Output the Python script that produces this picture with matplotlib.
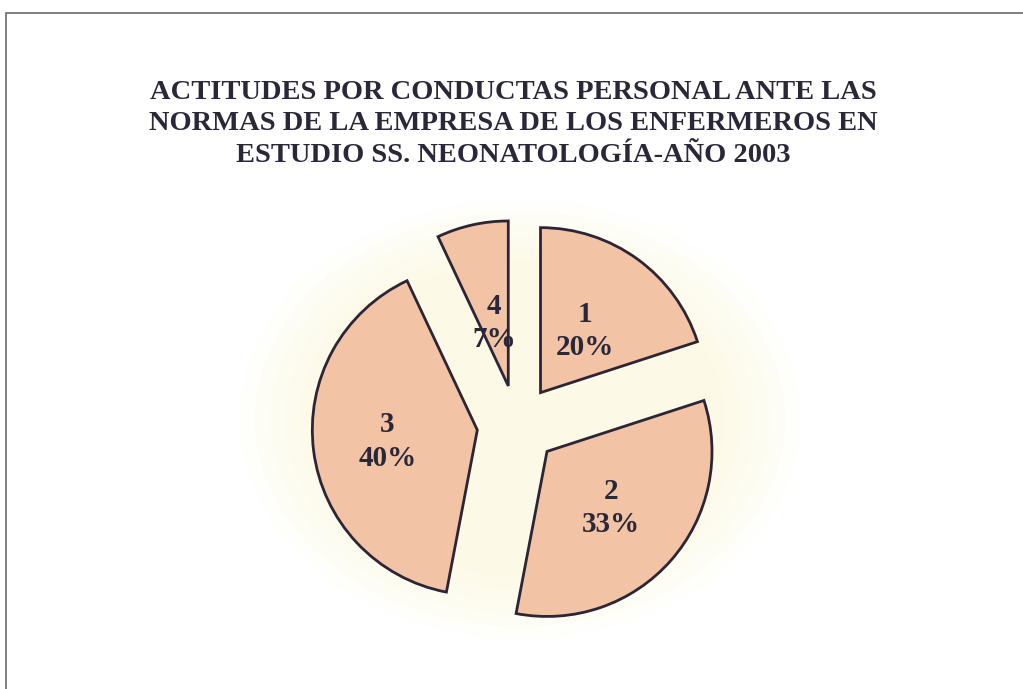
import numpy as np
import matplotlib.pyplot as plt
from matplotlib.patches import Ellipse, Rectangle

# datos del grafico
categorias = ["1", "2", "3", "4"]
porcentajes = [20, 33, 40, 7]
titulo = ("ACTITUDES POR CONDUCTAS PERSONAL ANTE LAS\n"
          "NORMAS DE LA EMPRESA DE LOS ENFERMEROS EN\n"
          "ESTUDIO SS. NEONATOLOGÍA-AÑO 2003")

color_sector = "#f3c3a6"
color_borde = "#2b2536"
color_texto = "#2a2838"

fig = plt.figure(figsize=(10.23, 6.89), dpi=100)
fig.patch.set_facecolor("white")
ax = fig.add_axes([0, 0, 1, 1])

# marco del cuadro (coordenadas en pixeles, y hacia arriba)
ax.add_patch(Rectangle((6, -20), 1040, 696, fill=False,
                       edgecolor="#6a6a6a", linewidth=1.2, zorder=0))
# leve brillo amarillento detras del grafico, difuminado
for k in range(6):
    ax.add_patch(Ellipse((520, 270), 560 - k * 30, 440 - k * 25,
                         facecolor="#fdf9d8", alpha=0.12,
                         edgecolor="none", zorder=0))

radio = 165
wedges, _ = ax.pie(porcentajes, startangle=90, counterclock=False,
                   center=(517, 264), radius=radio, frame=True,
                   explode=[40] * 4,
                   colors=[color_sector] * 4,
                   wedgeprops=dict(edgecolor=color_borde, linewidth=2.0))

dist_etiqueta = [0.46, 0.52, 0.55, 0.39]
for w, cat, pct, d in zip(wedges, categorias, porcentajes, dist_etiqueta):
    ang = np.deg2rad((w.theta1 + w.theta2) / 2)
    cx, cy = w.center
    ax.text(cx + d * w.r * np.cos(ang), cy + d * w.r * np.sin(ang),
            f"{cat}\n{pct}%", ha="center", va="center", fontsize=21,
            fontweight="bold", family="Liberation Serif", color=color_texto,
            linespacing=1.3, zorder=5)

ax.text(513, 689 - 124, titulo, ha="center", va="center", fontsize=20.5,
        fontweight="bold", family="Liberation Serif", color=color_texto,
        linespacing=1.35)

ax.set_xlim(0, 1023)
ax.set_ylim(0, 689)
ax.set_aspect("auto")
ax.axis("off")

fig.savefig("out.png", dpi=100)
